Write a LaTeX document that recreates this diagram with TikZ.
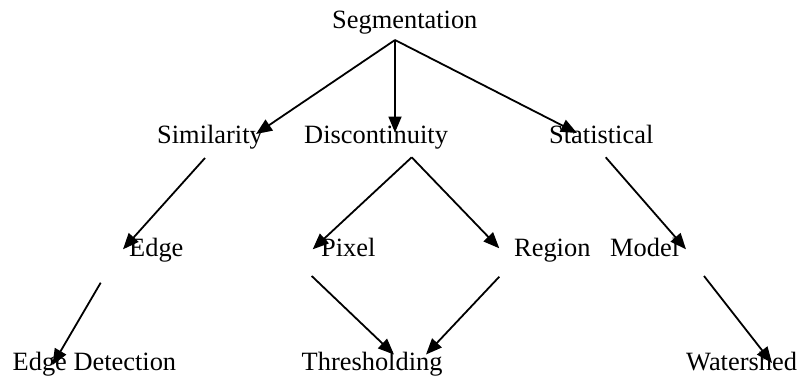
\documentclass[tikz,border=0pt]{standalone}
\usepackage{fontspec}
\setmainfont{Liberation Serif}
\usetikzlibrary{arrows.meta}
\begin{document}
\begin{tikzpicture}[x=1pt,y=-1pt,
  lbl/.style={anchor=base west,inner sep=0pt,font=\fontsize{26.4}{30}\selectfont},
  conn/.style={line width=1.8pt,-{Triangle[length=16pt,width=13pt]}}]
\useasboundingbox[fill=white] (0,0) rectangle (797,376);
% labels
\node[lbl] (seg) at (332,28) {Segmentation};
\node[lbl] (sim) at (157,143) {Similarity};
\node[lbl] (dis) at (304,143) {Discontinuity};
\node[lbl] (sta) at (549,143) {Statistical};
\node[lbl] (edge) at (129,256.5) {Edge};
\node[lbl] (pix) at (321,256.5) {Pixel};
\node[lbl] (reg) at (514,256.5) {Region};
\node[lbl] (mod) at (610,256.5) {Model};
\node[lbl] (edt) at (12.5,370) {Edge Detection};
\node[lbl] (thr) at (301.5,370) {Thresholding};
\node[lbl] (wat) at (686,370) {Watershed};
% connector end points
\coordinate (segO) at (395,40);
\coordinate (simI) at (256,134);
\coordinate (disI) at (395,132.5);
\coordinate (staI) at (577,133);
\coordinate (simO) at (205,158);
\coordinate (edgeI) at (123,249.3);
\coordinate (disO) at (411.7,157.3);
\coordinate (pixI) at (312.7,249.3);
\coordinate (regI) at (499.3,248.3);
\coordinate (staO) at (605.7,157.3);
\coordinate (modI) at (686,249.3);
\coordinate (edgeO) at (100.7,282.7);
\coordinate (edtI) at (52.5,365);
\coordinate (pixO) at (311.7,276);
\coordinate (thrI1) at (394,354.5);
\coordinate (regO) at (499.3,276.7);
\coordinate (thrI2) at (426,354.5);
\coordinate (modO) at (704,276);
\coordinate (watI) at (772,363);
% connectors
\draw[conn] (segO) -- (simI);
\draw[conn] (segO) -- (disI);
\draw[conn] (segO) -- (staI);
\draw[conn] (simO) -- (edgeI);
\draw[conn] (disO) -- (pixI);
\draw[conn] (disO) -- (regI);
\draw[conn] (staO) -- (modI);
\draw[conn] (edgeO) -- (edtI);
\draw[conn] (pixO) -- (thrI1);
\draw[conn] (regO) -- (thrI2);
\draw[conn] (modO) -- (watI);
\end{tikzpicture}
\end{document}
